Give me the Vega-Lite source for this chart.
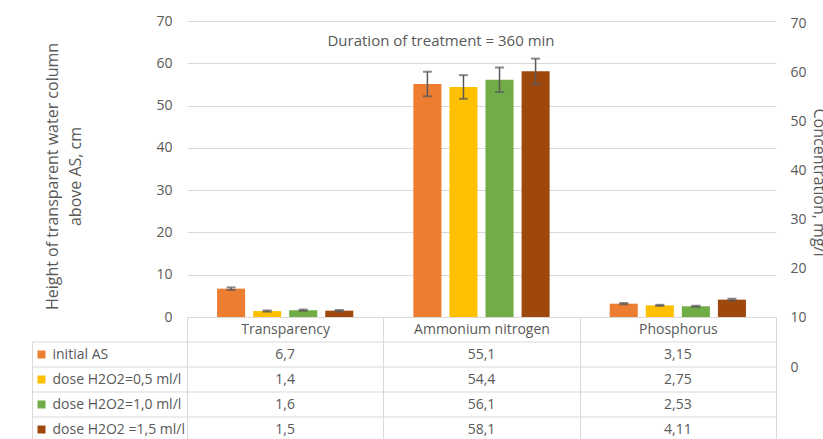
{
  "$schema": "https://vega.github.io/schema/vega-lite/v6.json",
  "width": 744,
  "height": 296,
  "autosize": {"type": "none"},
  "padding": {"left": 32, "top": 21, "right": 47, "bottom": 122},
  "background": "white",
  "config": {
    "font": "Open Sans",
    "view": {"stroke": null},
    "locale": {"number": {"decimal": ",", "thousands": " ", "grouping": [3], "currency": ["", ""]}},
    "axis": {"labelColor": "#595959", "labelFontSize": 14, "titleColor": "#595959", "titleFontWeight": "normal", "titleFontSize": 16}
  },
  "title": {"text": "Duration of treatment = 360 min", "frame": "group", "anchor": "middle", "dx": 37, "offset": -42, "baseline": "middle", "fontSize": 15, "fontWeight": "normal", "color": "#595959"},
  "data": {"values": [
    {"category": "Transparency", "series": "initial AS", "value": 6.7, "lo": 6.4, "hi": 7.0},
    {"category": "Transparency", "series": "dose H2O2=0,5 ml/l", "value": 1.4, "lo": 1.25, "hi": 1.55},
    {"category": "Transparency", "series": "dose H2O2=1,0 ml/l", "value": 1.6, "lo": 1.45, "hi": 1.75},
    {"category": "Transparency", "series": "dose H2O2 =1,5 ml/l", "value": 1.5, "lo": 1.35, "hi": 1.65},
    {"category": "Ammonium nitrogen", "series": "initial AS", "value": 55.1, "lo": 52.2, "hi": 58.0},
    {"category": "Ammonium nitrogen", "series": "dose H2O2=0,5 ml/l", "value": 54.4, "lo": 51.6, "hi": 57.2},
    {"category": "Ammonium nitrogen", "series": "dose H2O2=1,0 ml/l", "value": 56.1, "lo": 53.2, "hi": 59.0},
    {"category": "Ammonium nitrogen", "series": "dose H2O2 =1,5 ml/l", "value": 58.1, "lo": 55.1, "hi": 61.1},
    {"category": "Phosphorus", "series": "initial AS", "value": 3.15, "lo": 3.0, "hi": 3.3},
    {"category": "Phosphorus", "series": "dose H2O2=0,5 ml/l", "value": 2.75, "lo": 2.62, "hi": 2.88},
    {"category": "Phosphorus", "series": "dose H2O2=1,0 ml/l", "value": 2.53, "lo": 2.4, "hi": 2.66},
    {"category": "Phosphorus", "series": "dose H2O2 =1,5 ml/l", "value": 4.11, "lo": 3.9, "hi": 4.32}
  ]},
  "layer": [
    {
      "layer": [
        {
          "mark": {"type": "bar"},
          "encoding": {
            "x": {"field": "category", "type": "nominal", "sort": null,
              "scale": {"domain": ["Transparency", "Ammonium nitrogen", "Phosphorus"], "range": [155, 744], "paddingInner": 0, "paddingOuter": 0},
              "axis": {"orient": "bottom", "title": null, "labelAngle": 0, "domainColor": "#D9D9D9", "tickColor": "#D9D9D9", "tickBand": "extent", "tickSize": 125, "labelPadding": -120, "labelBaseline": "top", "grid": false}},
            "xOffset": {"field": "series", "type": "nominal", "sort": null,
              "scale": {"domain": ["initial AS", "dose H2O2=0,5 ml/l", "dose H2O2=1,0 ml/l", "dose H2O2 =1,5 ml/l"], "paddingInner": 0.222, "paddingOuter": 0.833}},
            "y": {"field": "value", "type": "quantitative",
              "scale": {"domain": [0, 70], "nice": false},
              "axis": {"orient": "left", "offset": -155, "values": [0, 10, 20, 30, 40, 50, 60, 70], "domain": false, "ticks": false, "grid": true, "gridColor": "#D9D9D9", "labelPadding": 15,
                "title": ["Height of transparent water column", "above AS, cm"], "titleAngle": -90, "titleBaseline": "middle", "titleAlign": "center", "titleX": -135, "titleY": 155, "titleLineHeight": 23}},
            "color": {"field": "series", "type": "nominal",
              "scale": {"domain": ["initial AS", "dose H2O2=0,5 ml/l", "dose H2O2=1,0 ml/l", "dose H2O2 =1,5 ml/l"], "range": ["#ED7D31", "#FFC000", "#70AD47", "#9E480E"]},
              "legend": null}
          }
        },
        {
          "mark": {"type": "rule", "color": "#595959", "strokeWidth": 1.5},
          "encoding": {
            "x": {"field": "category", "type": "nominal", "sort": null},
            "xOffset": {"field": "series", "type": "nominal", "sort": null},
            "y": {"field": "lo", "type": "quantitative"},
            "y2": {"field": "hi"}
          }
        },
        {
          "mark": {"type": "tick", "color": "#595959", "thickness": 2, "size": 9},
          "encoding": {
            "x": {"field": "category", "type": "nominal", "sort": null},
            "xOffset": {"field": "series", "type": "nominal", "sort": null},
            "y": {"field": "hi", "type": "quantitative"}
          }
        },
        {
          "mark": {"type": "tick", "color": "#595959", "thickness": 2, "size": 9},
          "encoding": {
            "x": {"field": "category", "type": "nominal", "sort": null},
            "xOffset": {"field": "series", "type": "nominal", "sort": null},
            "y": {"field": "lo", "type": "quantitative"}
          }
        }
      ]
    },
    {
      "layer": [
        {
          "mark": {"type": "text", "fontSize": 14, "color": "#595959"},
          "encoding": {
            "x": {"field": "category", "type": "nominal", "sort": null},
            "y": {"field": "series", "type": "nominal", "sort": null,
              "scale": {"domain": ["initial AS", "dose H2O2=0,5 ml/l", "dose H2O2=1,0 ml/l", "dose H2O2 =1,5 ml/l"], "range": [321, 421], "paddingInner": 0, "paddingOuter": 0},
              "axis": {"orient": "left", "title": null, "domain": true, "domainColor": "#D9D9D9", "grid": false,
                "ticks": true, "tickBand": "center", "tickSize": -13, "tickWidth": 8, "tickDash": [0, 5, 8, 100],
                "tickColor": {"condition": [
                  {"test": "datum.value === 'initial AS'", "value": "#ED7D31"},
                  {"test": "datum.value === 'dose H2O2=0,5 ml/l'", "value": "#FFC000"},
                  {"test": "datum.value === 'dose H2O2=1,0 ml/l'", "value": "#70AD47"}
                ], "value": "#9E480E"},
                "labelAlign": "left", "labelPadding": -7, "labelFontSize": 14, "labelColor": "#595959"}},
            "text": {"field": "value", "type": "quantitative", "format": "~g"}
          }
        },
        {
          "transform": [{"filter": "datum.category === 'Transparency'"}],
          "mark": {"type": "rule", "color": "#D9D9D9"},
          "encoding": {
            "y": {"field": "series", "type": "nominal", "sort": null, "bandPosition": 0}
          }
        }
      ]
    },
    {
      "data": {"values": [{"v": 0}, {"v": 70}]},
      "mark": {"type": "point", "opacity": 0},
      "encoding": {
        "y": {"field": "v", "type": "quantitative",
          "scale": {"domain": [0, 70], "range": [346, 2], "nice": false},
          "axis": {"orient": "right", "values": [0, 10, 20, 30, 40, 50, 60, 70], "domain": false, "ticks": false, "grid": false, "labelPadding": 14,
            "title": "Concentration, mg/l", "titleAngle": 90, "titleBaseline": "middle", "titleAlign": "center", "titleX": 42, "titleY": 161}}
      }
    }
  ],
  "resolve": {"scale": {"y": "independent"}}
}
